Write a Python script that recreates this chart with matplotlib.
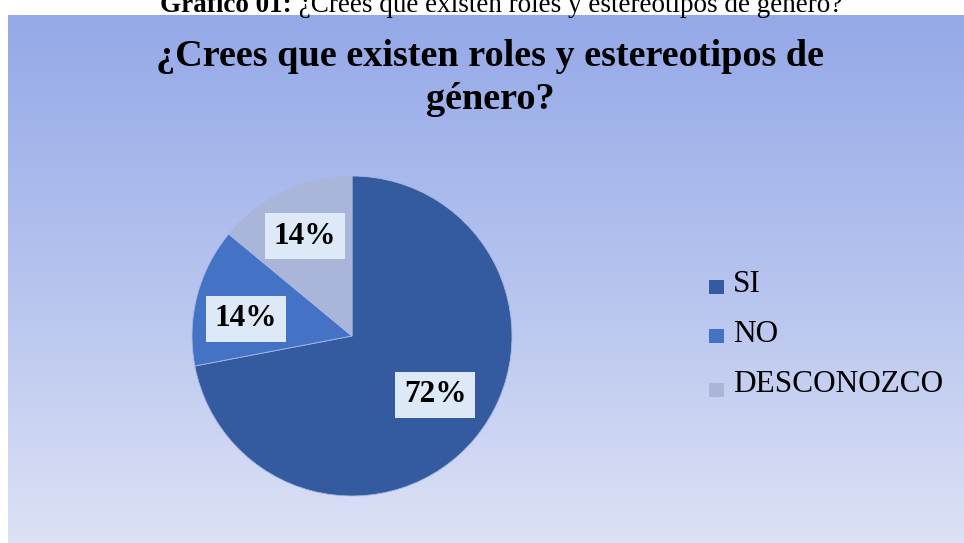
import matplotlib
matplotlib.use("Agg")
import matplotlib.pyplot as plt
import numpy as np
from matplotlib.colors import LinearSegmentedColormap

categories = ["SI", "NO", "DESCONOZCO"]
values = [72, 14, 14]
labels = ["72%", "14%", "14%"]
colors = ["#345B9F", "#4472C4", "#A9B5D9"]
title = "¿Crees que existen roles y estereotipos de\ngénero?"
caption_bold = "Gráfico 01:"
caption_rest = " ¿Crees que existen roles y estereotipos de género?"

W, H = 964, 543
fig = plt.figure(figsize=(W / 100, H / 100), dpi=100)
fig.patch.set_facecolor("white")

serif = ["Liberation Serif", "DejaVu Serif"]

# caption (clipped at top in the reference, partially hidden by the chart panel)
cap_fs = 19.5
t1 = fig.text(160 / W, 1 - 12 / H, caption_bold, ha="left", va="baseline",
              fontsize=cap_fs, fontweight="bold", family=serif, color="black", zorder=0)
fig.canvas.draw()
bb = t1.get_window_extent()
fig.text(bb.x1 / W, 1 - 12 / H, caption_rest, ha="left", va="baseline",
         fontsize=cap_fs, family=serif, color="black", zorder=0)

# gradient background panel
x0, y0top = 8, 15
bg = fig.add_axes([x0 / W, 0, 1 - x0 / W, (H - y0top) / H])
cmap = LinearSegmentedColormap.from_list("bg", ["#95A9E8", "#B5C3EE", "#DCE1F5"])
grad = np.linspace(0, 1, 256).reshape(-1, 1)
bg.imshow(grad, aspect="auto", cmap=cmap, extent=[0, 1, 0, 1], origin="upper")
bg.set_axis_off()

fig.text(490 / W, 1 - 78 / H, title, ha="center", va="center", fontsize=27.5,
         fontweight="bold", family=serif, color="black", linespacing=1.27)

# pie
cx, cy, r = 352, 336, 160
ax = fig.add_axes([(cx - r) / W, (H - cy - r) / H, 2 * r / W, 2 * r / H])
wedges, _ = ax.pie(values, colors=colors, startangle=90, counterclock=False,
                   radius=1.0, wedgeprops=dict(linewidth=0.6, edgecolor="#A9B8E4"))
ax.set_xlim(-1, 1)
ax.set_ylim(-1, 1)
ax.set_aspect("equal")

label_pos = [(435, 395), (246, 319), (305, 236)]
for lab, (px, py) in zip(labels, label_pos):
    lx = (px - cx) / r
    ly = -(py - cy) / r
    ax.text(lx, ly, lab, ha="center", va="center", fontsize=22.5, fontweight="bold",
            family=serif, color="black",
            bbox=dict(boxstyle="square,pad=0.28", facecolor="#DDE9F6", edgecolor="none"))

# legend
text_y = [284, 334, 385]
sq_y = [287, 336, 390]
for cat, col, ty, sy in zip(categories, colors, text_y, sq_y):
    fig.patches.append(plt.Rectangle((709 / W, 1 - (sy + 7) / H), 15 / W, 14 / H,
                                     transform=fig.transFigure, facecolor=col,
                                     edgecolor="none"))
    fig.text(733 / W, 1 - ty / H, cat, ha="left", va="center", fontsize=22.5,
             family=serif, color="black")

fig.savefig("out.png", dpi=100)
